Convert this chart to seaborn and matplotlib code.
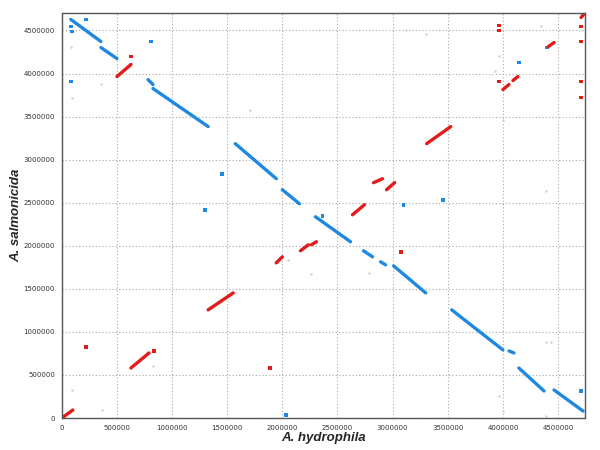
import numpy as np
import pandas as pd
import matplotlib.pyplot as plt
import seaborn as sns

# genome lengths (bp)
x_len = 4744448  # A. hydrophila
y_len = 4702402  # A. salmonicida

# reverse matches (blue): start/end on each genome
rev_x1 = [81800, 354500, 782000, 827000, 1573000, 2000000, 2300000, 2736000, 2891000, 3009000, 3536000, 4055000, 4145000, 4464000]
rev_x2 = [354500, 500000, 827000, 1327000, 1945000, 2155000, 2618000, 2818000, 2936000, 3300000, 4000000, 4100000, 4373000, 4727000]
rev_y1 = [4628000, 4302000, 3930000, 3826000, 3186000, 2651000, 2337000, 1942000, 1814000, 1767000, 1256000, 779000, 581000, 326000]
rev_y2 = [4372000, 4174000, 3872000, 3384000, 2779000, 2488000, 2047000, 1872000, 1779000, 1453000, 791000, 756000, 314000, 81000]

# forward matches (red)
fwd_x1 = [0, 500000, 627000, 1327000, 1945000, 2164000, 2264000, 2636000, 2827000, 2945000, 3309000, 4000000, 4091000, 4409000, 4709000]
fwd_x2 = [100000, 627000, 791000, 1555000, 2000000, 2236000, 2309000, 2745000, 2909000, 3018000, 3527000, 4055000, 4136000, 4464000, 4740000]
fwd_y1 = [0, 3965000, 581000, 1256000, 1802000, 1942000, 2012000, 2360000, 2733000, 2651000, 3186000, 3814000, 3919000, 4310000, 4651000]
fwd_y2 = [93000, 4105000, 756000, 1453000, 1872000, 2012000, 2047000, 2477000, 2779000, 2733000, 3384000, 3872000, 3965000, 4360000, 4700000]

# short isolated hits
fwd_dot_x = [218000, 836000, 627000, 1891000, 3073000, 3964000, 3964000, 3964000, 4709000, 4709000, 4709000, 4709000]
fwd_dot_y = [826000, 779000, 4198000, 581000, 1930000, 4558000, 4500000, 3907000, 4547000, 4372000, 3907000, 3721000]
rev_dot_x = [82000, 91000, 218000, 82000, 809000, 1455000, 1300000, 2364000, 3100000, 3455000, 2036000, 4709000, 4145000, 4400000]
rev_dot_y = [4547000, 4488000, 4628000, 3907000, 4372000, 2837000, 2419000, 2349000, 2477000, 2535000, 35000, 314000, 4128000, 4302000]

# faint weak hits
weak_x = [355000, 82000, 91000, 91000, 364000, 827000, 3118000, 3300000, 4345000, 3927000, 3964000, 4000000, 3964000, 4391000, 4391000, 4436000, 2055000, 4391000, 4000000, 2264000, 2782000, 1709000]
weak_y = [3884000, 4314000, 3721000, 326000, 93000, 605000, 4500000, 4454000, 4547000, 4035000, 4198000, 3465000, 256000, 2640000, 884000, 884000, 1837000, 23000, 81000, 1674000, 1686000, 3581000]

red = "#e21b1b"
blue = "#1f88e0"

rows = []
for i in range(len(rev_x1)):
    rows.append(("r%d" % i, "rev", rev_x1[i], rev_y1[i]))
    rows.append(("r%d" % i, "rev", rev_x2[i], rev_y2[i]))
for i in range(len(fwd_x1)):
    rows.append(("f%d" % i, "fwd", fwd_x1[i], fwd_y1[i]))
    rows.append(("f%d" % i, "fwd", fwd_x2[i], fwd_y2[i]))
seg = pd.DataFrame(rows, columns=["seg", "strand", "x", "y"])

dots = pd.DataFrame({
    "x": fwd_dot_x + rev_dot_x,
    "y": fwd_dot_y + rev_dot_y,
    "strand": ["fwd"] * len(fwd_dot_x) + ["rev"] * len(rev_dot_x),
})

sns.set_style("white")
fig = plt.figure(figsize=(6, 4.5), dpi=100)
ax = fig.add_axes([0.103, 0.071, 0.872, 0.9])

ax.grid(True, linestyle=(0, (1, 2)), color="#a8a8a8", linewidth=0.8)
ax.set_axisbelow(True)

sns.scatterplot(x=weak_x, y=weak_y, color="#d0d0d0", s=3, linewidth=0, ax=ax)
sns.lineplot(data=seg, x="x", y="y", hue="strand", units="seg", estimator=None, sort=False,
             palette={"fwd": red, "rev": blue}, linewidth=2.4, solid_capstyle="round",
             legend=False, ax=ax)
sns.scatterplot(data=dots, x="x", y="y", hue="strand", palette={"fwd": red, "rev": blue},
                s=7, marker="s", linewidth=0, legend=False, ax=ax)

ticks = np.arange(0, 4500001, 500000)
ax.set_xticks(ticks)
ax.set_yticks(ticks)
ax.set_xticklabels([str(t) for t in ticks], fontsize=5, color="#333333")
ax.set_yticklabels([str(t) for t in ticks], fontsize=5, color="#333333")
ax.tick_params(axis="x", length=0, pad=5)
ax.tick_params(axis="y", length=0, pad=5)
ax.set_xlim(0, x_len)
ax.set_ylim(0, y_len)

for s in ax.spines.values():
    s.set_color("#555555")
    s.set_linewidth(1.0)

lab = dict(fontsize=9.5, fontweight="bold", fontstyle="italic", family="Liberation Sans")
ax.set_xlabel("A. hydrophila", labelpad=1, **lab)
ax.set_ylabel("A. salmonicida", labelpad=1, **lab)

fig.savefig("out.png", dpi=100)
